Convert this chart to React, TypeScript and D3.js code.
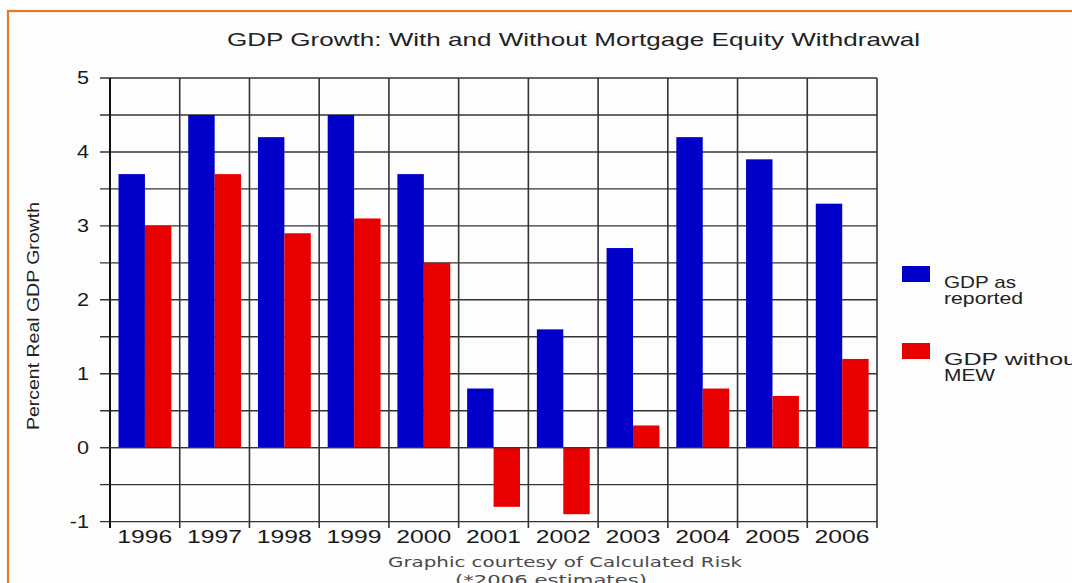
import React from 'react';
import * as d3 from 'd3';

const years = ['1996', '1997', '1998', '1999', '2000', '2001', '2002', '2003', '2004', '2005', '2006'];
const gdpReported = [3.7, 4.5, 4.2, 4.5, 3.7, 0.8, 1.6, 2.7, 4.2, 3.9, 3.3];
const gdpWithoutMEW = [3.0, 3.7, 2.9, 3.1, 2.5, -0.8, -0.9, 0.3, 0.8, 0.7, 1.2];
const seriesKeys = ['reported', 'withoutMEW'];
const seriesColors = ['#0000C8', '#E80000'];
const legendLines = [['GDP as', 'reported'], ['GDP without', 'MEW']];
const yTicks = [-1, 0, 1, 2, 3, 4, 5];
const yGrid = [-1, -0.5, 0, 0.5, 1, 1.5, 2, 2.5, 3, 3.5, 4, 4.5, 5];

const W = 1072;
const H = 583;
const plot = { left: 110, right: 877, top: 78, bottom: 521.6 };
const legendWidths = [[72, 79], [140, 51]];

export default function App() {
  const x0 = d3.scaleBand<string>().domain(years).range([plot.left, plot.right]).padding(0);
  const bw = x0.bandwidth();
  const x1 = d3.scaleBand<string>().domain(seriesKeys).range([bw * 0.122, bw * 0.88]).padding(0);
  const y = d3.scaleLinear().domain([-1, 5]).range([plot.bottom, plot.top]);
  const series = [gdpReported, gdpWithoutMEW];
  const gridColor = '#333';
  const font = '"Liberation Sans", Arial, sans-serif';

  return (
    <svg width={W} height={H} style={{ position: 'absolute', left: 0, top: 0, background: '#fff' }}>
      <rect x={0} y={0} width={W} height={H} fill="#fff" />
      <rect x={8} y={11} width={W + 20} height={H + 20} fill="#fdfdfd" stroke="#E8771F" strokeWidth={2.2} />

      {/* title */}
      <text x={573.5} y={46} textAnchor="middle" fontFamily={font} fontSize={19} fill="#222"
        textLength={693} lengthAdjust="spacingAndGlyphs">
        GDP Growth: With and Without Mortgage Equity Withdrawal
      </text>

      {/* horizontal grid */}
      {yGrid.map((v) => (
        <line key={'h' + v} x1={plot.left - 10} x2={plot.right} y1={y(v)} y2={y(v)}
          stroke={gridColor} strokeWidth={1.4} />
      ))}
      {/* vertical grid */}
      {years.map((yr) => (
        <line key={'v' + yr} x1={x0(yr)!} x2={x0(yr)!} y1={plot.top} y2={plot.bottom + 6.5}
          stroke={gridColor} strokeWidth={1.6} />
      ))}
      <line x1={plot.right} x2={plot.right} y1={plot.top} y2={plot.bottom + 6.5} stroke={gridColor} strokeWidth={1.6} />
      <line x1={plot.left} x2={plot.left} y1={plot.top} y2={plot.bottom + 6.5} stroke="#111" strokeWidth={2} />

      {/* bars */}
      {years.map((yr, i) => (
        <g key={'b' + yr} transform={`translate(${x0(yr)},0)`}>
          {series.map((s, k) => {
            const v = s[i];
            const top = y(Math.max(0, v));
            const bot = y(Math.min(0, v));
            return (
              <rect key={k} x={x1(seriesKeys[k])!} y={top} width={x1.bandwidth()} height={bot - top}
                fill={seriesColors[k]} />
            );
          })}
        </g>
      ))}
      <line x1={plot.left - 10} x2={plot.right} y1={y(0)} y2={y(0)} stroke={gridColor} strokeWidth={1.4} />

      {/* y tick labels */}
      {yTicks.map((v) => (
        <text key={'yt' + v} transform={`translate(89,${y(v)}) scale(1.2,1)`} dy="0.36em" textAnchor="end"
          fontFamily={font} fontSize={18} fill="#1a1a1a">
          {v}
        </text>
      ))}

      {/* x labels */}
      {years.map((yr) => (
        <text key={'xl' + yr} x={x0(yr)! + bw / 2} y={543} textAnchor="middle" fontFamily={font} fontSize={18}
          fill="#1a1a1a" textLength={55} lengthAdjust="spacingAndGlyphs">
          {yr}
        </text>
      ))}

      {/* y axis title */}
      <text transform={`translate(39,316) rotate(-90)`} textAnchor="middle" fontFamily={font} fontSize={16}
        fill="#222" textLength={228} lengthAdjust="spacingAndGlyphs">
        Percent Real GDP Growth
      </text>

      {/* legend */}
      {legendLines.map((lines, k) => (
        <g key={'lg' + k} transform={`translate(902,${266 + k * 77})`}>
          <rect x={0} y={0} width={28} height={16} fill={seriesColors[k]} />
          {lines.map((ln, j) => (
            <text key={j} x={42} y={21.5 + j * 16.5} fontFamily={font}
              fontSize={17} fill="#222" textLength={legendWidths[k][j]} lengthAdjust="spacingAndGlyphs">
              {ln}
            </text>
          ))}
        </g>
      ))}

      {/* caption */}
      <text x={565} y={567} textAnchor="middle" fontFamily='"DejaVu Sans", Verdana, sans-serif' fontSize={14}
        fill="#4a4a4a" textLength={354} lengthAdjust="spacingAndGlyphs">
        Graphic courtesy of Calculated Risk
      </text>
      <text x={551} y={585} textAnchor="middle" fontFamily='"DejaVu Sans", Verdana, sans-serif' fontSize={14}
        fill="#4a4a4a" textLength={192} lengthAdjust="spacingAndGlyphs">
        (*2006 estimates)
      </text>
    </svg>
  );
}
